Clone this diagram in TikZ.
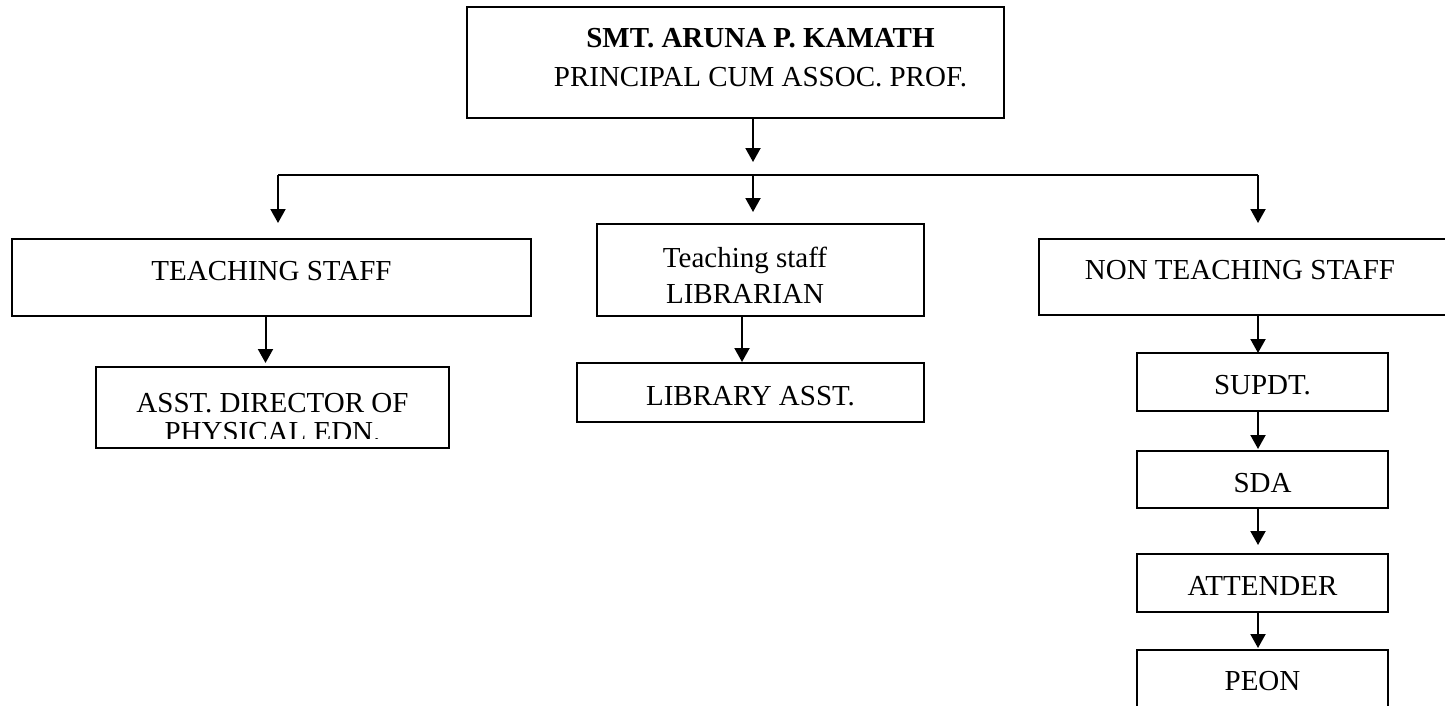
\documentclass[tikz,border=0pt]{standalone}
\usepackage{fontspec}
\setmainfont{Liberation Serif}
\usetikzlibrary{arrows.meta}

\tikzset{
	box/.style={draw, line width=1pt, inner sep=0pt, outer sep=0pt, anchor=north west,
		font=\fontsize{14.5}{18}\selectfont},
	arr/.style={line width=1pt, -{Triangle[width=7.5pt,length=7pt]}}
}

\begin{document}
\begin{tikzpicture}[x=0.5pt,y=-0.5pt]
	
	\useasboundingbox (0,0) rectangle (1445,706);
	\clip (0,0) rectangle (1445,706);
	
	% head
	\node[box, minimum width=268.5pt, text height=20.5pt, text depth=35pt,
		font=\fontsize{14.5}{19.5}\selectfont] (principal) at (467,7)
		{\hspace*{25pt}\begin{tabular}[t]{@{}c@{}}\textbf{SMT. ARUNA P. KAMATH}\\PRINCIPAL CUM ASSOC. PROF.\end{tabular}};
	
	% second row
	\node[box, minimum width=259.5pt, text height=20.5pt, text depth=18pt] (teaching) at (12,239) {TEACHING STAFF};
	\node[box, minimum width=163.5pt, text height=21.5pt, text depth=24.5pt] (librarian) at (597,224)
		{\begin{tabular}[t]{@{}c@{}}Teaching staff\\LIBRARIAN\end{tabular}\hspace*{15.5pt}};
	\node[box, minimum width=205.5pt, text height=20pt, text depth=18pt] (nonteaching) at (1039,239) {NON TEACHING STAFF\hspace*{4.5pt}};
	
	% third row
	\node[box, minimum width=176.5pt, text height=22.5pt, text depth=18pt] (asstdir) at (96,367) {};
	\begin{scope}
		\clip (asstdir.north west) rectangle ([yshift=5pt]asstdir.south east);
		\node[anchor=base, inner sep=0pt, font=\fontsize{14.5}{14.5}\selectfont] (asstdirtext) at (272.5,412)
			{\begin{tabular}[t]{@{}c@{}}ASST. DIRECTOR OF\\PHYSICAL EDN.\end{tabular}};
	\end{scope}
	\node[box, minimum width=173.5pt, text height=21pt, text depth=8.5pt] (libasst) at (577,363) {LIBRARY ASST.};
	
	% non teaching chain
	\node[box, minimum width=125.5pt, text height=20.5pt, text depth=8.5pt] (supdt) at (1137,353) {SUPDT.};
	\node[box, minimum width=125.5pt, text height=20.5pt, text depth=8pt] (sda) at (1137,451) {SDA};
	\node[box, minimum width=125.5pt, text height=20.5pt, text depth=8.5pt] (attender) at (1137,554) {ATTENDER};
	\node[box, minimum width=125.5pt, text height=20pt, text depth=14pt] (peon) at (1137,650) {PEON};
	
	% branching
	\coordinate (split) at (753,175);
	\coordinate (left) at (278,175);
	\coordinate (right) at (1258,175);
	\draw[arr, shorten >=6.5pt] (split |- principal.south) -- (split);
	\draw[line width=1pt] (left) -- (right);
	\draw[arr, shorten >=8pt] (left) -- (left |- teaching.north);
	\draw[arr, shorten >=6pt] (split) -- (split |- librarian.north);
	\draw[arr, shorten >=8pt] (right) -- (right |- nonteaching.north);
	
	\draw[arr, shorten >=2pt] ([xshift=-3pt]teaching.south) -- ([xshift=-3.5pt]asstdir.north);
	\draw[arr, shorten >=0.5pt] ([xshift=-9.25pt]librarian.south) -- ([xshift=-4.25pt]libasst.north);
	\draw[arr] ([xshift=6.75pt]nonteaching.south) -- ([xshift=-2.25pt]supdt.north);
	\foreach \a/\b/\s in {supdt/sda/1pt, sda/attender/4.5pt, attender/peon/1pt}
		\draw[arr, shorten >=\s] ([xshift=-2.25pt]\a.south) -- ([xshift=-2.25pt]\b.north);
\end{tikzpicture}
\end{document}
